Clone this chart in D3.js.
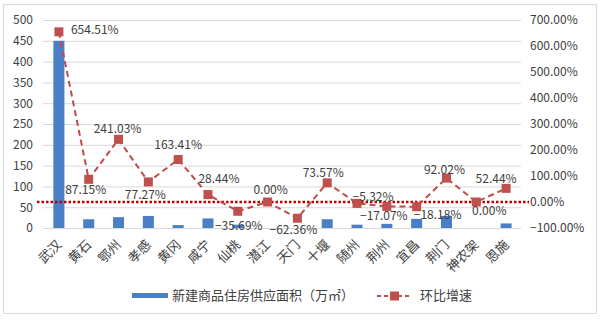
<!DOCTYPE html>
<html><head><meta charset="utf-8">
<script src="https://cdn.jsdelivr.net/npm/d3@7"></script>
<style>
html,body{margin:0;padding:0;background:#fff;}
svg{display:block;font-family:"Noto Sans CJK SC","Noto Sans",sans-serif;}
</style></head>
<body><svg id="c" width="600" height="322"></svg>
<script>
const categories = ["武汉","黄石","鄂州","孝感","黄冈","咸宁","仙桃","潜江","天门","十堰","随州","荆州","宜昌","荆门","神农架","恩施"];
const supplyArea = [450,21,26,29,7,23,8,0,0,21,8,10,22,29,0,11];
const growthRate = [654.51,87.15,241.03,77.27,163.41,28.44,-35.69,0.00,-62.36,73.57,-5.32,-17.07,-18.18,92.02,0.00,52.44];
const leftTicks = [0,50,100,150,200,250,300,350,400,450,500];
const rightTicks = [-100,0,100,200,300,400,500,600,700];
const labelOffsets = [[12,-1],[-3,11],[-1,-10],[-3,14],[0,-14],[11,-15],[1,15],[3,-11],[-4,13],[-4,-9],[16,-6],[-3,10],[21,9],[-2,-7],[13,10],[-10,-9]];
const seriesNames = ["新建商品住房供应面积（万㎡）","环比增速"];

const svg = d3.select("#c");
svg.append("rect").attr("x",3.5).attr("y",4.5).attr("width",593).attr("height",309)
  .attr("fill","#fff").attr("stroke","#d9d9d9");

const x = d3.scaleBand().domain(categories).range([44,521]).paddingInner(0.63).paddingOuter(0.315);
const yL = d3.scaleLinear().domain([0,500]).range([228,20]);
const yR = d3.scaleLinear().domain([-100,700]).range([228,20]);
const cx = c => x(c) + x.bandwidth()/2;

// gridlines
svg.append("g").selectAll("line").data(leftTicks).join("line")
  .attr("x1",43).attr("x2",521).attr("y1",d=>yL(d)+0.5).attr("y2",d=>yL(d)+0.5)
  .attr("stroke","#d9d9d9").attr("stroke-width",1);

// left axis
const la = svg.append("g").attr("transform","translate(43,0)")
  .call(d3.axisLeft(yL).tickValues(leftTicks).tickSize(0).tickPadding(10));
la.select(".domain").remove();
la.selectAll("text").attr("font-size",12).attr("fill","#404040").attr("font-family","'Noto Sans CJK SC',sans-serif");

// right axis
const ra = svg.append("g").attr("transform","translate(521,0)")
  .call(d3.axisRight(yR).tickValues(rightTicks).tickSize(0).tickPadding(9).tickFormat(d=>d3.format(".2f")(d)+"%"));
ra.select(".domain").remove();
ra.selectAll("text").attr("font-size",12).attr("fill","#404040").attr("font-family","'Noto Sans CJK SC',sans-serif");

// bars
svg.append("g").selectAll("rect").data(categories).join("rect")
  .attr("x",d=>x(d)).attr("width",x.bandwidth())
  .attr("y",(d,i)=>yL(supplyArea[i])).attr("height",(d,i)=>yL(0)-yL(supplyArea[i]))
  .attr("fill","#4a7fc6");

// zero reference line (dotted)
svg.append("line").attr("x1",37).attr("x2",529).attr("y1",yR(0)).attr("y2",yR(0))
  .attr("stroke","#c00000").attr("stroke-width",2.5).attr("stroke-dasharray","2.5,2");

// category labels
svg.append("g").selectAll("text").data(categories).join("text")
  .attr("transform",d=>`translate(${cx(d)+1},${243}) rotate(-45)`)
  .attr("text-anchor","end").attr("dominant-baseline","middle")
  .attr("font-size",13).attr("fill","#404040").text(d=>d);

// line
const line = d3.line().x((d,i)=>cx(categories[i])).y(d=>yR(d));
svg.append("path").datum(growthRate).attr("d",line).attr("fill","none")
  .attr("stroke","#be4b48").attr("stroke-width",2).attr("stroke-dasharray","6,4");
svg.append("g").selectAll("rect").data(growthRate).join("rect")
  .attr("x",(d,i)=>cx(categories[i])-4.5).attr("y",d=>yR(d)-4.5)
  .attr("width",9).attr("height",9).attr("fill","#c0504d");

// data labels
svg.append("g").selectAll("text").data(growthRate).join("text")
  .attr("x",(d,i)=>cx(categories[i])+labelOffsets[i][0])
  .attr("y",(d,i)=>yR(d)+labelOffsets[i][1])
  .attr("text-anchor",(d,i)=>i===0?"start":"middle")
  .attr("dominant-baseline","middle")
  .attr("font-size",12).attr("fill","#404040")
  .text(d=>d3.format(".2f")(d)+"%");

// legend
const lg = svg.append("g");
lg.append("rect").attr("x",132).attr("y",293).attr("width",36).attr("height",5).attr("fill","#4a7fc6");
lg.append("text").attr("x",172).attr("y",296).attr("dominant-baseline","middle")
  .attr("font-size",13).attr("fill","#404040").text(seriesNames[0]);
lg.append("line").attr("x1",377).attr("x2",412).attr("y1",296).attr("y2",296)
  .attr("stroke","#be4b48").attr("stroke-width",2).attr("stroke-dasharray","4,3");
lg.append("rect").attr("x",390).attr("y",291.5).attr("width",9).attr("height",9).attr("fill","#c0504d");
lg.append("text").attr("x",420).attr("y",296).attr("dominant-baseline","middle")
  .attr("font-size",13).attr("fill","#404040").text(seriesNames[1]);
</script></body></html>
